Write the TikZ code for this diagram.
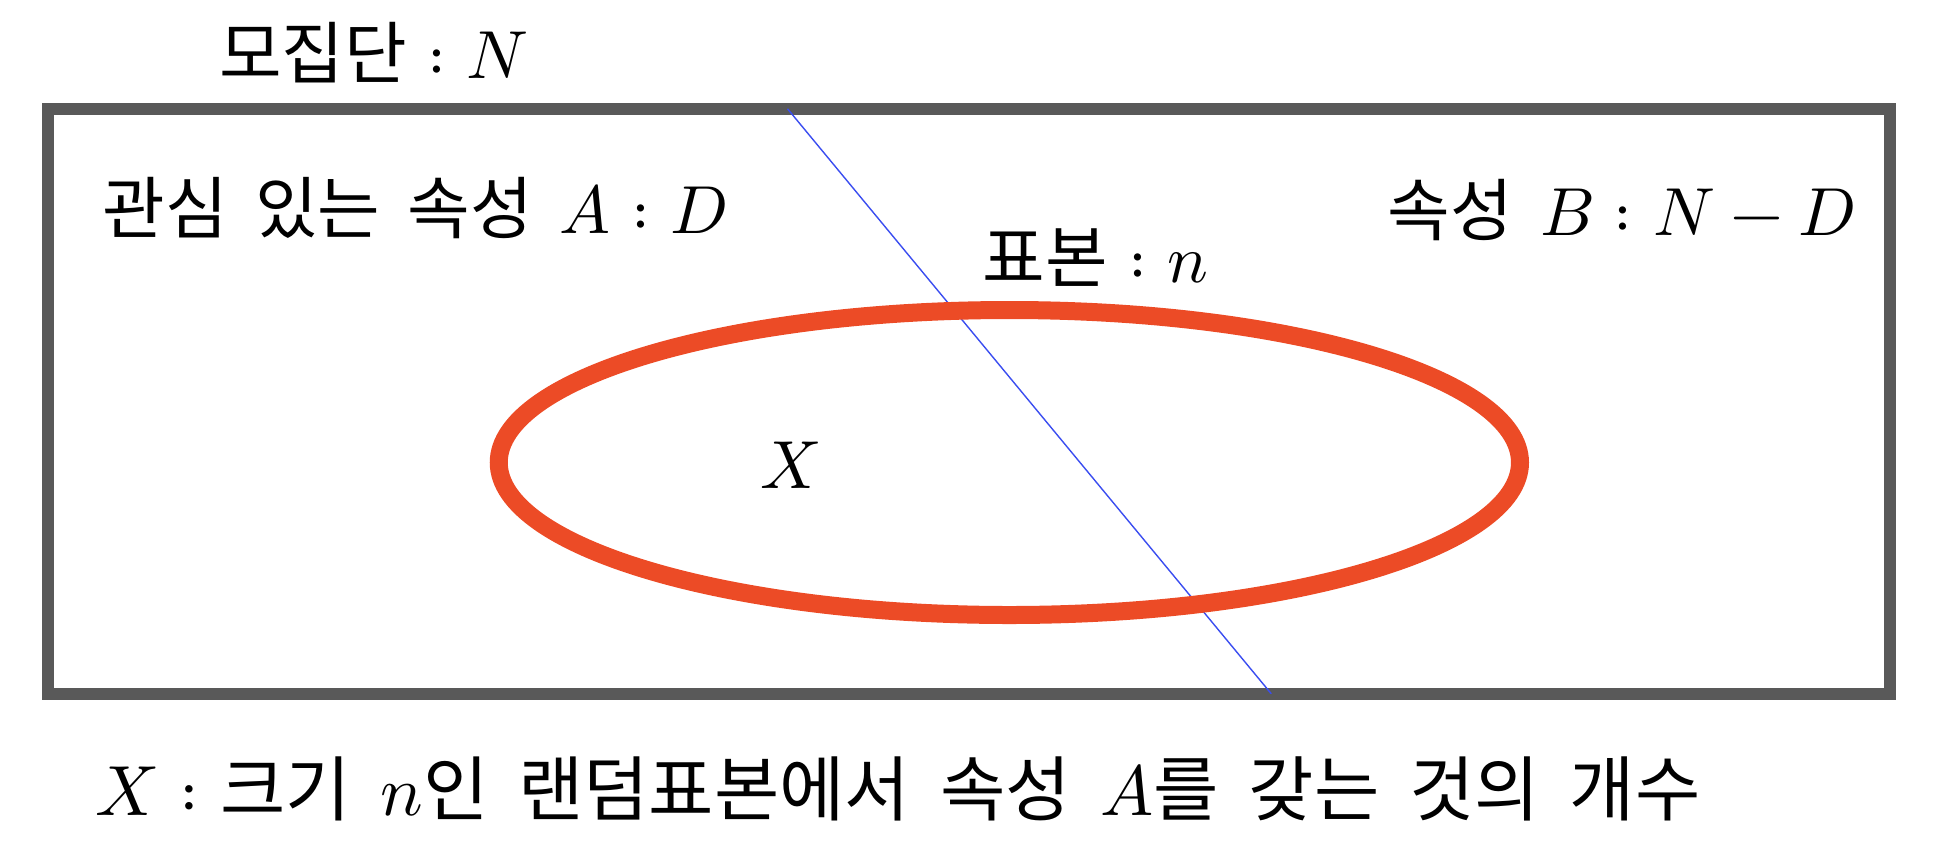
\documentclass[tikz,border=0pt]{standalone}
\usepackage{fontspec}
\usepackage{unicode-math}
\setmainfont{Noto Sans CJK KR}
\setmathfont{Latin Modern Math}
\definecolor{boxgray}{HTML}{595959}
\definecolor{sampleorange}{HTML}{EC4B26}
\definecolor{lineblue}{HTML}{3A4DF0}
\newcommand\kcolon{\hspace{0.3em}$:$\hspace{0.3em}}
\newcommand\txtfont{\fontsize{34}{40}\selectfont\setlength{\spaceskip}{0.4em}}
\newcommand\deffont{\fontsize{35.5}{42}\selectfont\setlength{\spaceskip}{0.42em}}
\tikzset{
  txt/.style={inner sep=0pt, font=\txtfont, anchor=base west},
  deftxt/.style={inner sep=0pt, font=\deffont, anchor=base west},
  popbox/.style={draw=boxgray, line width=6pt},
  samplering/.style={draw=sampleorange, line width=9pt},
  divider/.style={draw=lineblue, line width=0.7pt}
}
\begin{document}
\begin{tikzpicture}[x=0.625pt,y=-0.625pt]
\useasboundingbox (0,0) rectangle (1560,691.2);
% population box
\coordinate (boxTL) at (38.5,87);
\coordinate (boxBR) at (1512,555);
\draw[popbox] (boxTL) rectangle (boxBR);
% dividing line between attributes
\coordinate (divTop) at (630,87);
\coordinate (divBot) at (1017,555);
\draw[divider] (divTop) -- (divBot);
% sample ellipse
\coordinate (sampC) at (807.5,370);
\draw[samplering] (sampC) ellipse [x radius=408.5, y radius=122];
% labels
\node[txt] (pop) at (175,63) {모집단\kcolon$N$};
\node[txt] (attA) at (82,187) {관심 있는 속성 $A$\kcolon$D$};
\node[txt] (attB) at (1110,188) {속성 $B$\kcolon$N-D$};
\node[txt] (samp) at (786,226) {표본\kcolon$n$};
\node[txt, anchor=base] (xlab) at (632,391) {$X$};
\node[deftxt] (def) at (76,652) {$X$\kcolon 크기 $n$인 랜덤표본에서 속성 $A$를 갖는 것의 개수};
\end{tikzpicture}
\end{document}
